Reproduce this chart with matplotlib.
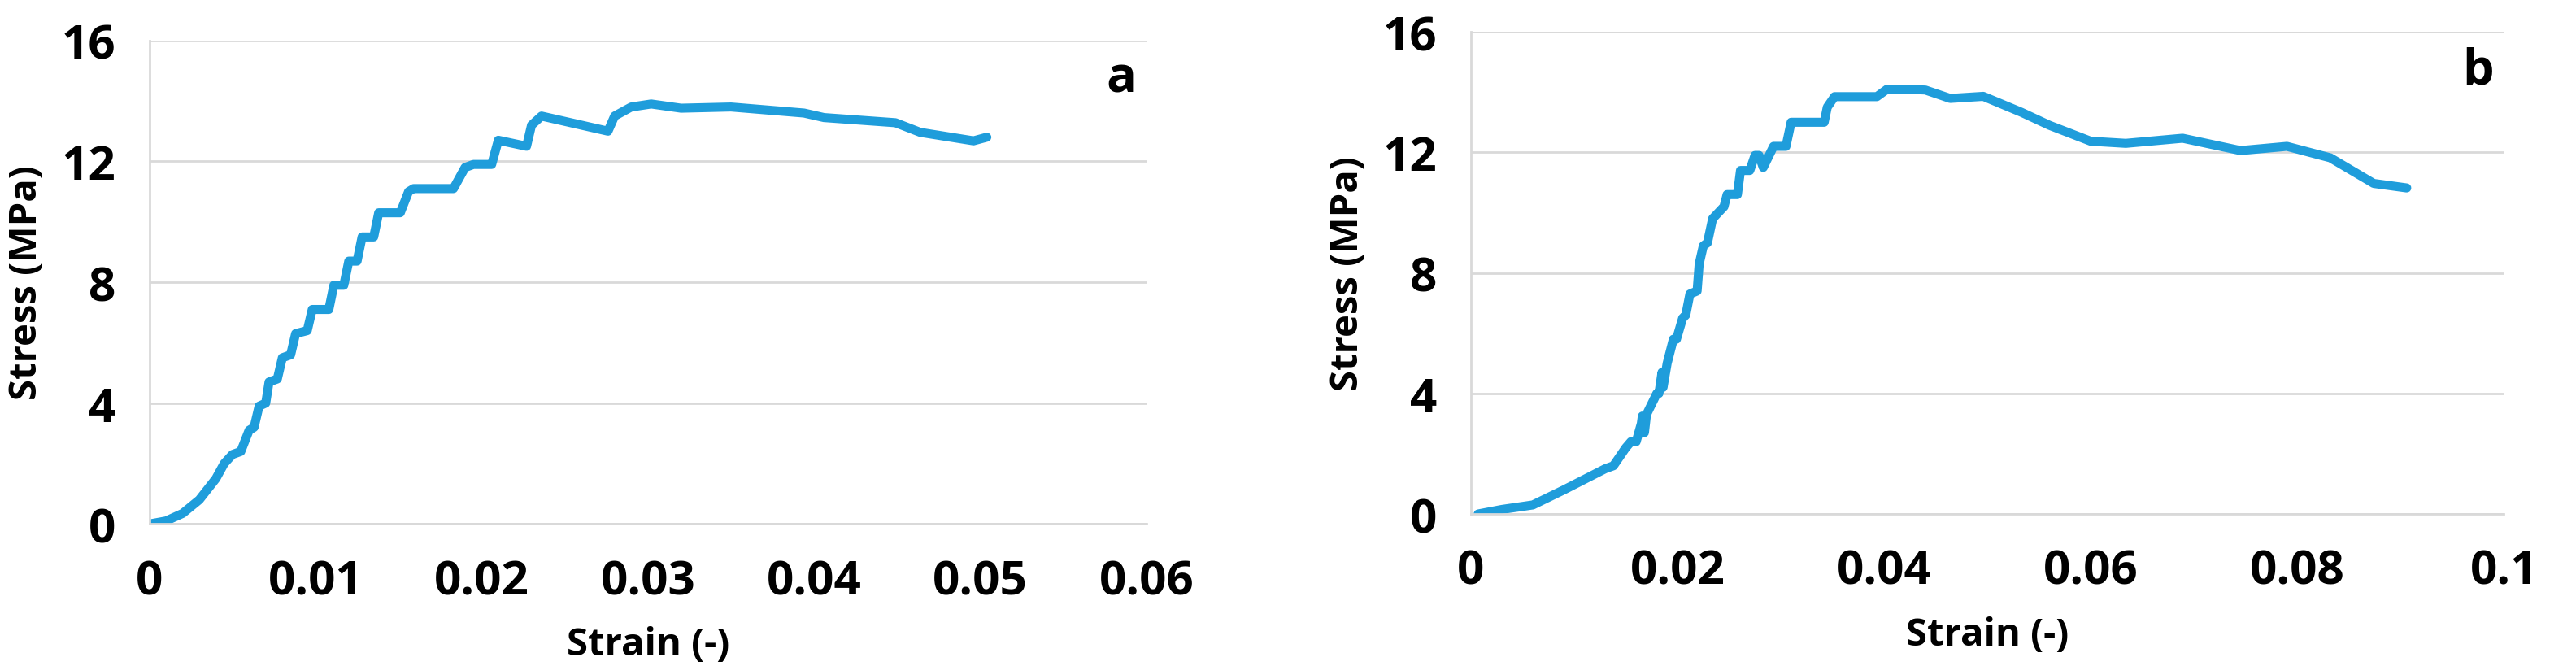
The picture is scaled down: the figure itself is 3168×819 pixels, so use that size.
import matplotlib
matplotlib.use("Agg")
from matplotlib import pyplot as plt

# panel a
strain_a = [0, 0.001, 0.002, 0.003, 0.004, 0.0045, 0.005, 0.0055, 0.006, 0.0063, 0.0066, 0.007,
            0.0072, 0.0077, 0.008, 0.0085, 0.0088, 0.0095, 0.0098, 0.0108, 0.0111, 0.0117, 0.012,
            0.0125, 0.0128, 0.0135, 0.0138, 0.0151, 0.0156, 0.0159, 0.0183, 0.019, 0.0195, 0.0206,
            0.021, 0.0227, 0.023, 0.0236, 0.0276, 0.028, 0.029, 0.0302, 0.032, 0.035, 0.0394,
            0.0406, 0.0449, 0.0464, 0.0496, 0.0504]
stress_a = [0, 0.1, 0.35, 0.8, 1.5, 2.0, 2.3, 2.4, 3.1, 3.2, 3.9, 4.0,
            4.7, 4.8, 5.5, 5.6, 6.3, 6.4, 7.1, 7.1, 7.9, 7.9, 8.7,
            8.7, 9.5, 9.5, 10.3, 10.3, 11.0, 11.1, 11.1, 11.8, 11.9, 11.9,
            12.7, 12.5, 13.2, 13.5, 13.0, 13.5, 13.8, 13.9, 13.76, 13.8, 13.6,
            13.45, 13.28, 12.96, 12.68, 12.8]

# panel b
strain_b = [0.0007, 0.003, 0.006, 0.009, 0.011, 0.013, 0.0138, 0.015, 0.0155, 0.016, 0.0165, 0.0166,
            0.0168, 0.017, 0.018, 0.0182, 0.0185, 0.0186, 0.019, 0.0196, 0.0199, 0.0205, 0.0208,
            0.0212, 0.0219, 0.0221, 0.0225, 0.0229, 0.0234, 0.0245, 0.0248, 0.0258, 0.0261, 0.027,
            0.0275, 0.0279, 0.0283, 0.0293, 0.0305, 0.031, 0.0342, 0.0345, 0.0352, 0.0393, 0.0403,
            0.042, 0.044, 0.0464, 0.0496, 0.0533, 0.056, 0.060, 0.0634, 0.0689, 0.0745, 0.079,
            0.0832, 0.0874, 0.0906]
stress_b = [0, 0.15, 0.3, 0.8, 1.15, 1.5, 1.6, 2.2, 2.4, 2.4, 3.0, 3.25,
            2.7, 3.3, 4.0, 4.0, 4.7, 4.2, 5.0, 5.8, 5.8, 6.5, 6.6,
            7.3, 7.4, 8.3, 8.9, 9.0, 9.8, 10.2, 10.6, 10.6, 11.4, 11.4,
            11.9, 11.9, 11.5, 12.2, 12.2, 13.0, 13.0, 13.5, 13.85, 13.85, 14.1,
            14.1, 14.07, 13.79, 13.86, 13.33, 12.9, 12.37, 12.3, 12.47, 12.06, 12.2,
            11.82, 10.97, 10.82]

plt.rcParams['font.family'] = ['Open Sans', 'DejaVu Sans']
plt.rcParams['font.weight'] = 'bold'

fig = plt.figure(figsize=(31.68, 8.2), dpi=100)
ax_a = fig.add_axes([0.058, 0.213, 0.387, 0.725])
ax_b = fig.add_axes([0.571, 0.228, 0.401, 0.723])

panels = [(ax_a, strain_a, stress_a, 0.06, [0, 0.01, 0.02, 0.03, 0.04, 0.05, 0.06],
           ['0', '0.01', '0.02', '0.03', '0.04', '0.05', '0.06'], 'a'),
          (ax_b, strain_b, stress_b, 0.1, [0, 0.02, 0.04, 0.06, 0.08, 0.1],
           ['0', '0.02', '0.04', '0.06', '0.08', '0.1'], 'b')]

for ax, x, y, xmax, xt, xl, tag in panels:
    ax.plot(x, y, color='#1f9ddb', lw=8, solid_joinstyle='round', solid_capstyle='round')
    ax.set_xlim(0, xmax)
    ax.set_ylim(0, 16)
    ax.set_xticks(xt)
    ax.set_xticklabels(xl)
    ax.set_yticks([0, 4, 8, 12, 16])
    ax.grid(axis='y', color='#d9d9d9', lw=2)
    ax.set_axisbelow(True)
    for s in ['top', 'right']:
        ax.spines[s].set_visible(False)
    ax.spines['left'].set_color('#d9d9d9')
    ax.spines['bottom'].set_color('#d9d9d9')
    ax.spines['left'].set_linewidth(2)
    ax.spines['bottom'].set_linewidth(2)
    ax.tick_params(length=0, labelsize=42, pad=30)
    ax.set_xlabel('Strain (-)', fontsize=34, fontweight='bold', labelpad=18)
    ax.set_ylabel('Stress (MPa)', fontsize=34, fontweight='bold', labelpad=14)
    ax.text(0.99, 0.92, tag, transform=ax.transAxes, fontsize=44, fontweight='bold',
            ha='right', va='center')

fig.savefig('out.png', dpi=100)
